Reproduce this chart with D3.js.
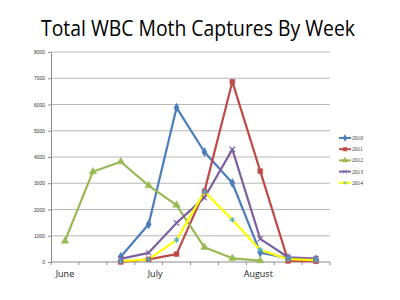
<!DOCTYPE html>
<html>
<head>
<meta charset="utf-8">
<script src="https://cdn.jsdelivr.net/npm/d3@7"></script>
<style>
  body { margin: 0; background: #fff; }
  #container { width: 400px; height: 300px; }
</style>
</head>
<body>
<div id="container"></div>
<script>
// data
var weeks = [1, 2, 3, 4, 5, 6, 7, 8, 9, 10];
var monthLabels = ["June", "July", "August"];
var monthWeeks = [1, 4.23, 7.93];   // where each month label sits, in week units
var years = ["2010", "2011", "2012", "2013", "2014"];
var yTicks = [0, 1000, 2000, 3000, 4000, 5000, 6000, 7000, 8000];

var v2010 = [null, null, 200, 1440, 5880, 4190, 3010, 360, 150, 100];
var v2011 = [null, null, 0, 100, 300, 2690, 6870, 3460, 40, 30];
var v2012 = [800, 3440, 3820, 2910, 2170, 560, 140, 50, null, null];
var v2013 = [null, null, 120, 350, 1490, 2450, 4290, 880, 180, 130];
var v2014 = [null, null, 30, 100, 840, 2680, 1610, 460, 110, 70];

var margin = {top: 52, right: 70, bottom: 38, left: 51},
    width = 400 - margin.left - margin.right,
    height = 300 - margin.top - margin.bottom;

var colors = ["#4a7ebb", "#be4b48", "#98b954", "#7d60a0", "#ffff00"];
var markerColors = ["#4a7ebb", "#be4b48", "#98b954", "#7d60a0", "#4bacc6"];
var symbols = [d3.symbolDiamond, d3.symbolSquare, d3.symbolTriangle, d3.symbolTimes, d3.symbolAsterisk];

function drawChart() {
    var series = [v2010, v2011, v2012, v2013, v2014];

    var svg = d3.select("#container")
      .append("svg")
        .attr("width", 400)
        .attr("height", 300);

    svg.append("text")
        .attr("x", 198)
        .attr("y", 36)
        .attr("text-anchor", "middle")
        .attr("font-family", "Open Sans, sans-serif")
        .attr("font-size", 21)
        .attr("textLength", 314)
        .attr("lengthAdjust", "spacingAndGlyphs")
        .attr("fill", "#000")
        .text("Total WBC Moth Captures By Week");

    var g = svg.append("g")
        .attr("transform", "translate(" + margin.left + "," + margin.top + ")");

    var x = d3.scaleBand()
        .domain(weeks)
        .range([0, width]);

    var xLin = d3.scaleLinear()
        .domain([0.5, weeks.length + 0.5])
        .range([0, width]);

    var y = d3.scaleLinear()
        .domain([0, 8000])
        .range([height, 0]);

    // gridlines
    g.selectAll(".grid")
        .data(yTicks.slice(1))
        .enter()
        .append("line")
        .attr("x1", 0)
        .attr("x2", width)
        .attr("y1", function(d) { return y(d); })
        .attr("y2", function(d) { return y(d); })
        .attr("stroke", "#b9b9b9")
        .attr("stroke-width", 1);

    var yAxis = g.append("g")
        .call(d3.axisLeft(y).tickValues(yTicks).tickFormat(d3.format("d"))
            .tickSize(3).tickPadding(3).tickSizeOuter(0));
    yAxis.select(".domain").attr("stroke", "#8c8c8c");
    yAxis.selectAll(".tick line").attr("stroke", "#8c8c8c");
    yAxis.selectAll("text")
        .attr("font-family", "Liberation Sans, sans-serif")
        .attr("font-size", 5)
        .attr("fill", "#333");

    // x axis with tick marks between weeks
    g.append("line")
        .attr("x1", 0).attr("x2", width)
        .attr("y1", height).attr("y2", height)
        .attr("stroke", "#8c8c8c");
    g.selectAll(".xtick")
        .data(d3.range(weeks.length + 1))
        .enter()
        .append("line")
        .attr("x1", function(i) { return i * x.step(); })
        .attr("x2", function(i) { return i * x.step(); })
        .attr("y1", height)
        .attr("y2", height + 3)
        .attr("stroke", "#8c8c8c");

    g.selectAll(".month")
        .data(monthLabels)
        .enter()
        .append("text")
        .attr("x", function(d, i) { return xLin(monthWeeks[i]); })
        .attr("y", height + 15)
        .attr("text-anchor", "middle")
        .attr("font-family", "Open Sans, sans-serif")
        .attr("font-size", 9)
        .attr("fill", "#222")
        .text(function(d) { return d; });

    var cx = function(d, i) { return x(weeks[i]) + x.bandwidth() / 2; };

    var line = d3.line()
        .defined(function(d) { return d !== null; })
        .x(cx)
        .y(function(d) { return y(d); });

    series.forEach(function(s, k) {
        g.append("path")
            .datum(s)
            .attr("fill", "none")
            .attr("stroke", colors[k])
            .attr("stroke-width", 2.2)
            .attr("stroke-linejoin", "round")
            .attr("d", line);
    });

    series.forEach(function(s, k) {
        var stroked = (k === 3 || k === 4);
        g.selectAll(".m" + k)
            .data(s.map(function(d, i) { return {v: d, i: i}; }).filter(function(d) { return d.v !== null; }))
            .enter()
            .append("path")
            .attr("transform", function(d) {
                return "translate(" + cx(d.v, d.i) + "," + y(d.v) + ")";
            })
            .attr("d", d3.symbol().type(symbols[k]).size(stroked ? 20 : 24))
            .attr("fill", stroked ? "none" : markerColors[k])
            .attr("stroke", markerColors[k])
            .attr("stroke-width", stroked ? 1.1 : 0.5);
    });

    // legend
    var legend = svg.append("g")
        .attr("transform", "translate(339,138)");
    var item = legend.selectAll(".item")
        .data(years)
        .enter()
        .append("g")
        .attr("transform", function(d, i) { return "translate(0," + (i * 11.2) + ")"; });
    item.append("line")
        .attr("x1", 0).attr("x2", 12)
        .attr("stroke", function(d, i) { return colors[i]; })
        .attr("stroke-width", 2);
    item.append("path")
        .attr("transform", "translate(6,0)")
        .attr("d", function(d, i) { return d3.symbol().type(symbols[i]).size(12)(); })
        .attr("fill", function(d, i) { return (i === 3 || i === 4) ? "none" : markerColors[i]; })
        .attr("stroke", function(d, i) { return markerColors[i]; })
        .attr("stroke-width", 0.6);
    item.append("text")
        .attr("x", 13)
        .attr("y", 2)
        .attr("font-family", "Liberation Serif, serif")
        .attr("font-size", 5.5)
        .attr("fill", "#333")
        .text(function(d) { return d; });
}

drawChart();
</script>
</body>
</html>
